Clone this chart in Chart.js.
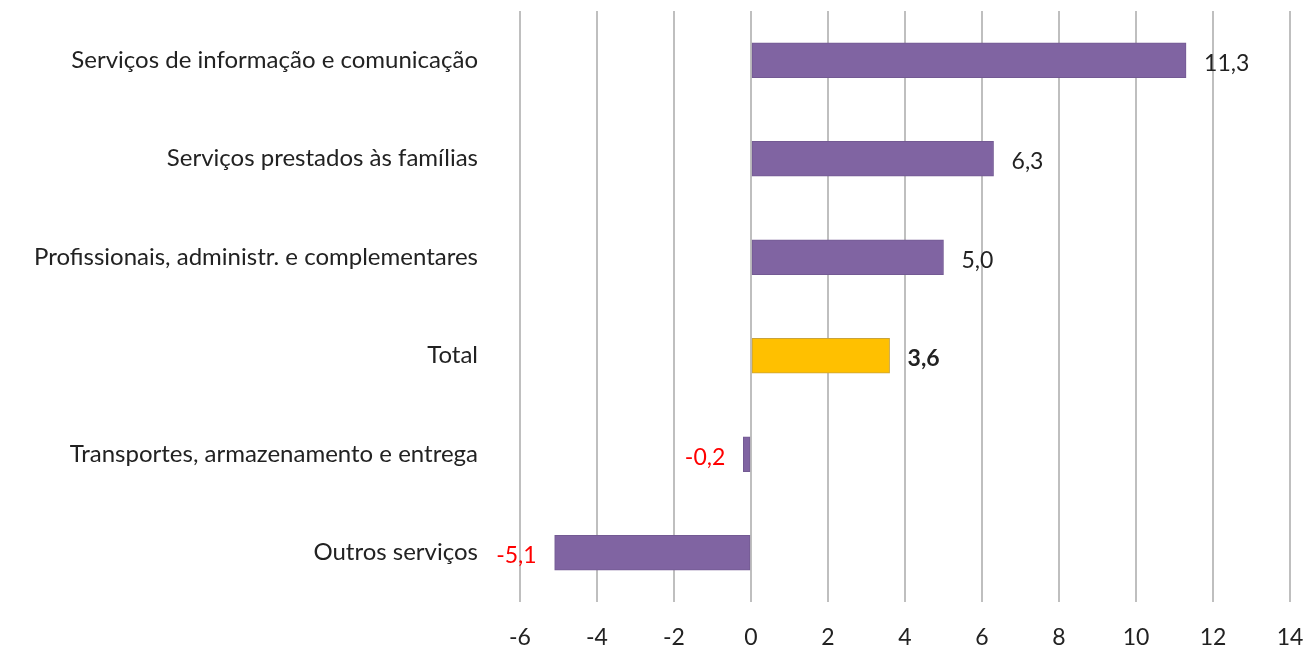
<!DOCTYPE html>
<html>
<head>
<meta charset="utf-8">
<script src="https://cdn.jsdelivr.net/npm/chart.js@4.4.1/dist/chart.umd.min.js"></script>
<style>
  html, body { margin: 0; padding: 0; background: #fff; }
  #wrap { width: 1307px; height: 650px; }
</style>
</head>
<body>
<div id="wrap"><canvas id="servChart"></canvas></div>
<script>
// Chart data
const categories = [
  'Serviços de informação e comunicação',
  'Serviços prestados às famílias',
  'Profissionais, administr. e complementares',
  'Total',
  'Transportes, armazenamento e entrega',
  'Outros serviços'
];
const values = [11.3, 6.3, 5.0, 3.6, -0.2, -5.1];
const xTicks = [-6, -4, -2, 0, 2, 4, 6, 8, 10, 12, 14];

const colors = {
  bar: '#8064A2',
  barBorder: '#735a93',
  total: '#FFC000',
  totalBorder: '#c9a33a',
  grid: '#bfbfbf',
  negLabel: '#ff0000'
};
const fontFamily = 'Lato, "Open Sans", sans-serif';
const fontSize = 23;

// value labels beside each bar
const valueLabels = {
  id: 'valueLabels',
  afterDatasetsDraw(chart) {
    const { ctx } = chart;
    const meta = chart.getDatasetMeta(0);
    ctx.save();
    ctx.textBaseline = 'middle';
    meta.data.forEach((bar, i) => {
      const v = values[i];
      const text = v.toFixed(1).replace('.', ',');
      const isTotal = categories[i] === 'Total';
      ctx.font = (isTotal ? 'bold ' : '') + fontSize + 'px ' + fontFamily;
      if (v >= 0) {
        ctx.fillStyle = '#222';
        ctx.textAlign = 'left';
        ctx.fillText(text, bar.x + 18, bar.y + 3);
      } else {
        ctx.fillStyle = colors.negLabel;
        ctx.textAlign = 'right';
        ctx.fillText(text, bar.x - 18, bar.y + 3);
      }
    });
    ctx.restore();
  }
};

new Chart(document.getElementById('servChart').getContext('2d'), {
  type: 'bar',
  data: {
    labels: categories,
    datasets: [{
      data: values,
      backgroundColor: categories.map(c => c === 'Total' ? colors.total : colors.bar),
      borderColor: categories.map(c => c === 'Total' ? colors.totalBorder : colors.barBorder),
      borderWidth: 1,
      borderSkipped: false,
      barThickness: 35
    }]
  },
  options: {
    indexAxis: 'y',
    responsive: true,
    maintainAspectRatio: false,
    animation: false,
    devicePixelRatio: 1,
    layout: { padding: { top: 11, right: 17, bottom: 0, left: 0 } },
    plugins: {
      legend: { display: false },
      tooltip: { enabled: false }
    },
    scales: {
      x: {
        min: -6,
        max: 14,
        afterBuildTicks(scale) {
          scale.ticks = xTicks.map(v => ({ value: v }));
        },
        grid: { color: colors.grid, lineWidth: 2, drawTicks: false },
        border: { display: false },
        ticks: {
          color: '#222',
          padding: 22,
          font: { family: fontFamily, size: fontSize }
        },
        afterFit(scale) {
          scale.height = 48;
          scale.paddingLeft = 0;
          scale.paddingRight = 0;
        }
      },
      y: {
        grid: { display: false },
        border: { display: false },
        ticks: {
          color: '#222',
          padding: 34,
          font: { family: fontFamily, size: 24 }
        },
        afterFit(scale) {
          scale.width = 520;
          scale.paddingTop = 0;
          scale.paddingBottom = 0;
        }
      }
    }
  },
  plugins: [valueLabels]
});
</script>
</body>
</html>
